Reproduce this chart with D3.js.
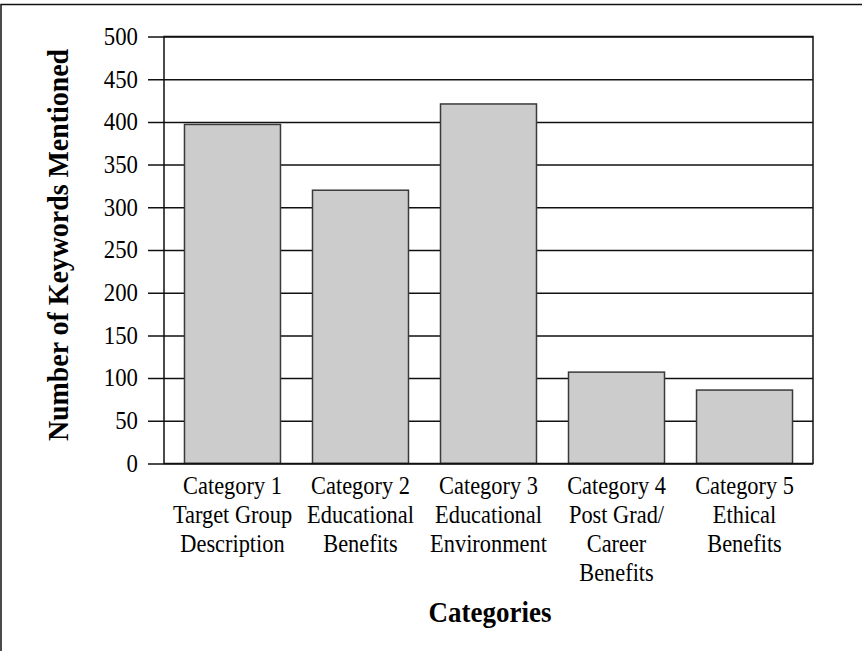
<!DOCTYPE html>
<html>
<head>
<meta charset="utf-8">
<script src="https://cdn.jsdelivr.net/npm/d3@7"></script>
<style>
  body { margin: 0; background: #fff; }
  svg text { font-family: "Liberation Serif", "Times New Roman", Times, serif; fill: #000; }
</style>
</head>
<body>
<svg id="chart" width="862" height="651"></svg>
<script>
// chart data
const categories = ['Category 1', 'Category 2', 'Category 3', 'Category 4', 'Category 5'];
const categoryLabels = [
    ['Category 1', 'Target Group', 'Description'],
    ['Category 2', 'Educational', 'Benefits'],
    ['Category 3', 'Educational', 'Environment'],
    ['Category 4', 'Post Grad/', 'Career', 'Benefits'],
    ['Category 5', 'Ethical', 'Benefits']
];
const keywordCounts = [397, 320, 421, 107, 86];
const yTicks = [0, 50, 100, 150, 200, 250, 300, 350, 400, 450, 500];

const width = 862;
const height = 651;
const plot = { left: 164, right: 813, top: 36.5, bottom: 463.5 };
const squeeze = 0.93; // the text in the original is a bit narrow

const svg = d3.select('#chart');

// outer frame (only top and left edges are in view)
svg.append('rect')
    .attr('x', 1)
    .attr('y', 4.5)
    .attr('width', width + 10)
    .attr('height', height + 10)
    .attr('fill', 'none')
    .attr('stroke', '#111')
    .attr('stroke-width', 1.5);

const xScale = d3.scaleBand()
    .domain(categories)
    .range([plot.left, plot.right])
    .paddingInner(0.25)
    .paddingOuter(0.16);

const yScale = d3.scaleLinear()
    .domain([0, 500])
    .range([plot.bottom, plot.top]);

// gridlines + ticks sticking out to the left
const tickSize = plot.right - plot.left + 16;
const yAxis = d3.axisLeft(yScale)
    .tickValues(yTicks)
    .tickSize(tickSize)
    .tickPadding(10)
    .tickFormat(d3.format('d'));

const yG = svg.append('g')
    .attr('transform', `translate(${plot.right},0)`)
    .call(yAxis);
yG.select('.domain').remove();
yG.selectAll('.tick line')
    .attr('stroke', '#111')
    .attr('stroke-width', 1.5);
yG.selectAll('.tick text')
    .attr('x', 0)
    .attr('transform', `translate(${-(tickSize + 10)},0) scale(${squeeze},1)`)
    .attr('font-family', '"Liberation Serif", serif')
    .style('font-size', '24.5px')
    .attr('fill', '#000');

// bars
svg.append('g')
    .selectAll('rect')
    .data(keywordCounts)
    .enter()
    .append('rect')
    .attr('x', (d, i) => xScale(categories[i]))
    .attr('y', d => yScale(d))
    .attr('width', xScale.bandwidth())
    .attr('height', d => yScale(0) - yScale(d))
    .attr('fill', '#cccccc')
    .attr('stroke', '#3a3a3a')
    .attr('stroke-width', 1.5);

// plot frame
svg.append('rect')
    .attr('x', plot.left)
    .attr('y', plot.top)
    .attr('width', plot.right - plot.left)
    .attr('height', plot.bottom - plot.top)
    .attr('fill', 'none')
    .attr('stroke', '#111')
    .attr('stroke-width', 1.5);

// x labels, several lines each
const xLabels = svg.append('g');
categoryLabels.forEach((lines, i) => {
    const cx = xScale(categories[i]) + xScale.bandwidth() / 2;
    const t = xLabels.append('text')
        .attr('transform', `translate(${cx},494) scale(0.895,1)`)
        .attr('text-anchor', 'middle')
        .style('font-size', '25px');
    lines.forEach((line, j) => {
        t.append('tspan')
            .attr('x', 0)
            .attr('y', j * 29)
            .text(line);
    });
});

// axis titles
svg.append('text')
    .attr('transform', `translate(490,622) scale(${squeeze},1)`)
    .attr('text-anchor', 'middle')
    .style('font-size', '29px')
    .style('font-weight', 'bold')
    .text('Categories');

svg.append('text')
    .attr('transform', `translate(68,245) rotate(-90) scale(${squeeze},1)`)
    .attr('text-anchor', 'middle')
    .style('font-size', '30px')
    .style('font-weight', 'bold')
    .text('Number of Keywords Mentioned');
</script>
</body>
</html>
